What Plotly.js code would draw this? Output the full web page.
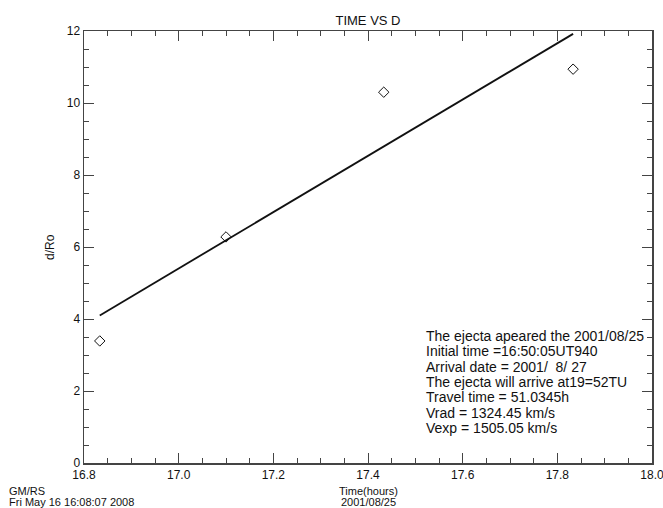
<!DOCTYPE html>
<html>
<head>
<meta charset="utf-8">
<script src="https://cdn.plot.ly/plotly-3.0.1.min.js"></script>
<style>html,body{margin:0;padding:0;background:#fff;}#plot{width:663px;height:508px;}</style>
</head>
<body>
<div id="plot"></div>
<script>
// Observations (time in hours, distance in solar radii)
const obsTime = [16.8333, 17.1, 17.4333, 17.8333];
const obsDist = [3.39, 6.28, 10.3, 10.94];
// Fitted line end points
const fitTime = [16.8333, 17.8333];
const fitDist = [4.1, 11.92];
// Tick labels
const xTickVals = [16.8, 17.0, 17.2, 17.4, 17.6, 17.8, 18.0];
const xTickText = ["16.8", "17.0", "17.2", "17.4", "17.6", "17.8", "18.0"];
const yTickVals = [0, 2, 4, 6, 8, 10, 12];
const yTickText = ["0", "2", "4", "6", "8", "10", "12"];
// Info text block
const infoLines = [
  "The ejecta apeared the 2001/08/25",
  "Initial time =16:50:05UT940",
  "Arrival date = 2001/  8/ 27",
  "The ejecta will arrive at19=52TU",
  "Travel time = 51.0345h",
  "Vrad = 1324.45 km/s",
  "Vexp = 1505.05 km/s"
];
const xTitleLines = ["Time(hours)", "2001/08/25"];
const footerLines = ["GM/RS", "Fri May 16 16:08:07 2008"];

const FONT = "Liberation Sans, Arial, sans-serif";
const traces = [
  {x: fitTime, y: fitDist, mode: 'lines', line: {color: '#111', width: 1.8}, hoverinfo: 'skip'},
  {x: obsTime, y: obsDist, mode: 'markers',
   marker: {symbol: 'diamond-open', size: 8, color: '#111', line: {width: 1, color: '#111'}}},
  // invisible trace anchoring the mirrored (top/right) axes
  {x: fitTime, y: fitDist, xaxis: 'x2', yaxis: 'y2', mode: 'lines', line: {width: 0}, opacity: 0, hoverinfo: 'skip'}
];

const annotations = [];
infoLines.forEach((t, i) => {
  annotations.push({text: t, xref: 'paper', yref: 'paper', x: 0, y: 1,
    xanchor: 'left', yanchor: 'middle', xshift: 340, yshift: -(305 + i * 15.3),
    showarrow: false, font: {family: FONT, size: 14, color: '#111'}});
});
xTitleLines.forEach((t, i) => {
  annotations.push({text: t, xref: 'paper', yref: 'paper', x: 0.5, y: 0,
    xanchor: 'center', yanchor: 'middle', yshift: -(28 + i * 11),
    showarrow: false, font: {family: FONT, size: 11, color: '#111'}});
});
footerLines.forEach((t, i) => {
  annotations.push({text: t, xref: 'paper', yref: 'paper', x: 0, y: 0,
    xanchor: 'left', yanchor: 'middle', xshift: -77, yshift: -(28 + i * 11),
    showarrow: false, font: {family: FONT, size: 11, color: '#111'}});
});
annotations.push({text: 'd/Ro', xref: 'paper', yref: 'paper', x: 0, y: 0.5,
  xanchor: 'center', yanchor: 'middle', xshift: -34, textangle: -90,
  showarrow: false, font: {family: FONT, size: 12, color: '#111'}});

const axisCommon = {
  showgrid: false, zeroline: false, showline: true, linecolor: '#444', linewidth: 1.5,
  ticks: 'inside', ticklen: 10, tickwidth: 1, tickcolor: '#444',
  ticklabeloverflow: 'allow',
  tickfont: {family: FONT, size: 12, color: '#111'}
};
const xMinor = {tickmode: 'linear', tick0: 16.8, dtick: 0.05, ticks: 'inside', ticklen: 5, tickcolor: '#444', showgrid: false};
const yMinor = {tickmode: 'linear', tick0: 0, dtick: 0.5, ticks: 'inside', ticklen: 5, tickcolor: '#444', showgrid: false};

const layout = {
  width: 663, height: 508,
  margin: {l: 84, r: 11, t: 31, b: 45},
  paper_bgcolor: '#fff', plot_bgcolor: '#fff',
  showlegend: false,
  title: {text: 'TIME VS D', x: 0.5, xref: 'paper', y: 1, yref: 'paper', yanchor: 'bottom',
          pad: {b: 6}, font: {family: FONT, size: 13, color: '#111'}},
  xaxis: Object.assign({}, axisCommon, {range: [16.8, 18.0], tickmode: 'array', tickvals: xTickVals, ticktext: xTickText, minor: xMinor}),
  yaxis: Object.assign({}, axisCommon, {range: [0, 12], tickmode: 'array', tickvals: yTickVals, ticktext: yTickText, minor: yMinor}),
  xaxis2: Object.assign({}, axisCommon, {overlaying: 'x', side: 'top', anchor: 'y2', range: [16.8, 18.0],
    tickmode: 'array', tickvals: xTickVals, showticklabels: false, minor: xMinor}),
  yaxis2: Object.assign({}, axisCommon, {overlaying: 'y', side: 'right', anchor: 'x2', range: [0, 12],
    tickmode: 'array', tickvals: yTickVals, showticklabels: false, minor: yMinor}),
  annotations: annotations
};

Plotly.newPlot('plot', traces, layout, {displayModeBar: false, staticPlot: true});
</script>
</body>
</html>
